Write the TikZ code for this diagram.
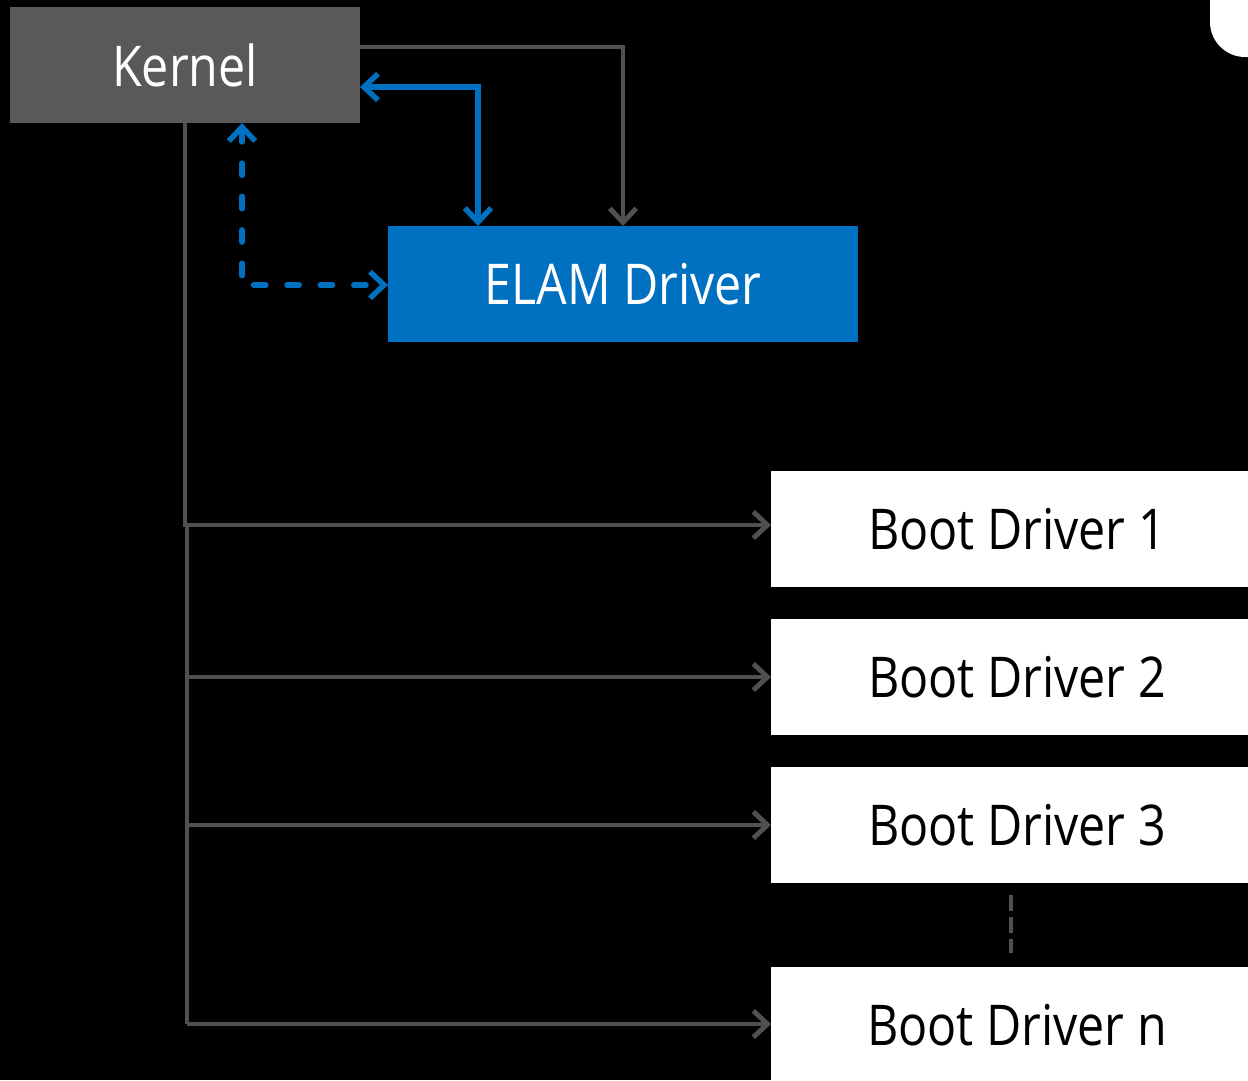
\documentclass[tikz,border=0pt]{standalone}
\usepackage{fontspec}
\setmainfont[FakeStretch=0.86]{Open Sans}
\usetikzlibrary{arrows.meta}
\definecolor{kgray}{HTML}{595959}
\definecolor{lgray}{HTML}{505050}
\definecolor{elamblue}{HTML}{0070C0}
\tikzset{
  box/.style={rectangle, inner sep=0pt, outer sep=0pt, minimum height=2.32cm, font=\fontsize{32}{38}\selectfont},
  gtip/.tip={Straight Barb[length=8pt,width=15pt,line width=2.8pt]},
  btip/.tip={Straight Barb[length=8pt,width=15pt,line width=3.1pt]},
  gline/.style={draw=lgray, line width=2.8pt},
  garrow/.style={gline, -gtip},
  bline/.style={draw=elamblue, line width=3.1pt},
}
\begin{document}
\begin{tikzpicture}[x=0.02cm,y=-0.02cm]
\useasboundingbox (0,0) rectangle (1248,1080);
\clip (0,0) rectangle (1248,1080);
\fill[black] (0,0) rectangle (1248,1080);
\fill[white, rounded corners=20pt] (1210,-100) rectangle (1320,57);
% nodes
\node[box, fill=kgray, text=white, minimum width=7cm] (kernel) at (185,65) {Kernel};
\node[box, fill=elamblue, text=white, minimum width=9.4cm] (elam) at (623,284) {ELAM Driver};
\node[box, fill=white, text=black, minimum width=9.84cm, anchor=west] (b1) at (771,529) {Boot Driver 1};
\node[box, fill=white, text=black, minimum width=9.84cm, anchor=west] (b2) at (771,677) {Boot Driver 2};
\node[box, fill=white, text=black, minimum width=9.84cm, anchor=west] (b3) at (771,825) {Boot Driver 3};
\node[box, fill=white, text=black, minimum width=9.84cm, anchor=west] (bn) at (771,1025) {Boot Driver n};
% coordinates
\coordinate (j1) at (185,525);
\coordinate (t1) at (187,525);
\coordinate (tn) at (187,1024);
\coordinate (dots1) at (1011,895);
\coordinate (dots2) at (1011,953);
% gray connectors
\draw[garrow] (kernel.east |- 0,47) -| (elam.north -| 623,0);
\draw[garrow] (kernel.south) -- (j1) -- (b1.west |- j1);
\draw[gline] (t1) -- (tn);
\draw[garrow] (187,677) -- (b2.west);
\draw[garrow] (187,825) -- (b3.west);
\draw[garrow] (tn) -- (bn.west |- tn);
% blue connectors
\draw[bline, btip-btip] (kernel.east |- 0,87) -| (elam.north -| 478,0);
\draw[bline, line cap=round, dash pattern=on 7pt off 12pt, btip-btip] (kernel.south -| 242,0) |- (elam.west |- 0,285);
% vertical dots
\draw[gline, dash pattern=on 9pt off 3.5pt] (dots1) -- (dots2);
\end{tikzpicture}
\end{document}
